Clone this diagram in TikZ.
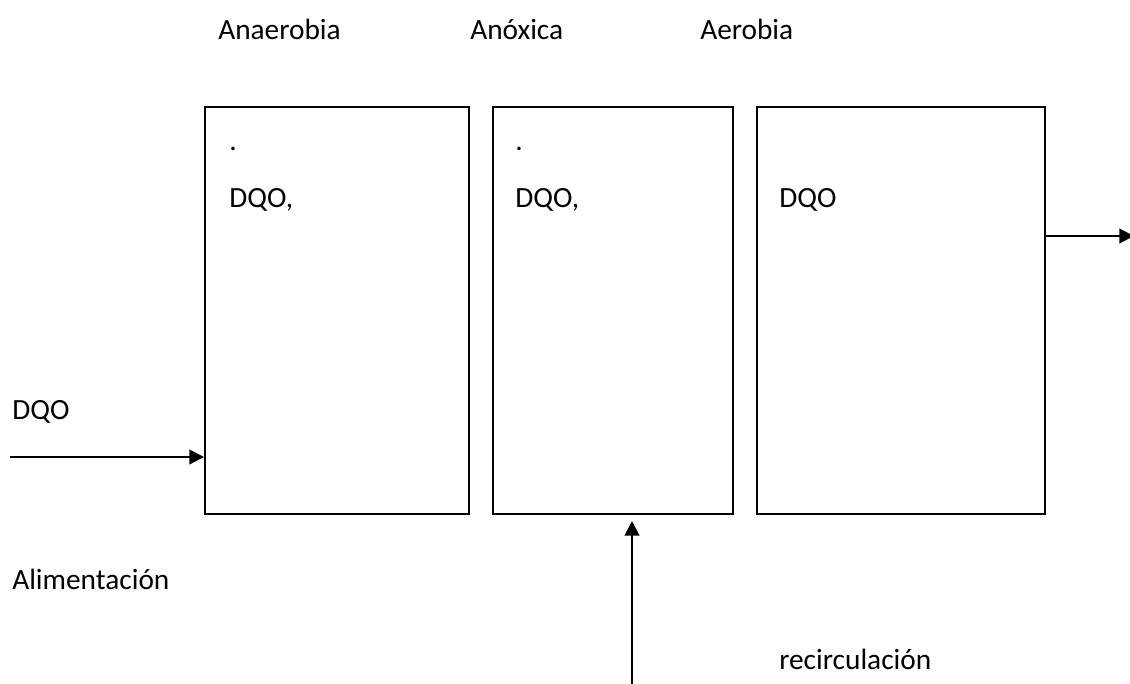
\documentclass[tikz,border=0pt]{standalone}
\usepackage{fontspec}
\setmainfont{Carlito}
\usetikzlibrary{fit,arrows.meta}
\begin{document}
\begin{tikzpicture}[x=0.75pt,y=-0.75pt,
  box/.style={draw,line width=1.5pt,inner sep=0pt},
  lbl/.style={anchor=base west,inner sep=0pt,font=\fontsize{22}{26}\selectfont},
  arr/.style={line width=1.5pt,-{Triangle[length=11pt,width=11pt]}}]
\clip (0,0) rectangle (1130,683);
\useasboundingbox (0,0) rectangle (1130,683);
\node[box,fit={(205,107) (469,514)}] (b1) {};
\node[box,fit={(493,107) (733,514)}] (b2) {};
\node[box,fit={(757,107) (1045,514)}] (b3) {};
\node[lbl] (t1) at (218,39) {Anaerobia};
\node[lbl] (t2) at (470,39) {Anóxica};
\node[lbl] (t3) at (700,39) {Aerobia};
\node[lbl] (d1) at (229,150) {.};
\node[lbl] (q1) at (229,207) {DQO,};
\node[lbl] (d2) at (515,150) {.};
\node[lbl] (q2) at (515,207) {DQO,};
\node[lbl] (q3) at (779,207) {DQO};
\node[lbl] (q0) at (12,419) {DQO};
\node[lbl] (al) at (12,589) {Alimentación};
\node[lbl] (rc) at (779,669) {recirculación};
\coordinate (inL) at (10,457);
\coordinate (rb) at (632,690);
\coordinate (outR) at (1134,236);
\draw[arr] (inL) -- (inL -| b1.west);
\draw[arr,shorten >=4.5pt] (rb) -- (rb |- b2.south);
\draw[arr] (outR -| b3.east) -- (outR);
\end{tikzpicture}
\end{document}
